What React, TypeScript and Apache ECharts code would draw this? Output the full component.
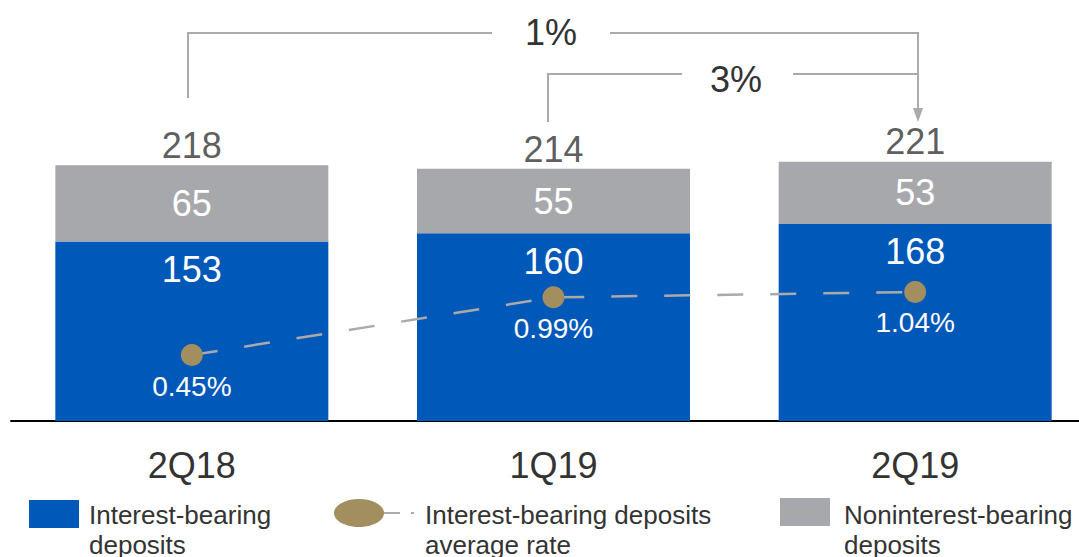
import React, { useEffect, useRef } from "react";
import * as echarts from "echarts";

const categories = ["2Q18", "1Q19", "2Q19"];
const interestBearing = [153, 160, 168];
const nonInterestBearing = [65, 55, 53];
const totals = [218, 214, 221];
const avgRate = [0.45, 0.99, 1.04];
const rateLabels = ["0.45%", "0.99%", "1.04%"];
const growthLabels = ["1%", "3%"];
const legendNames = ["Interest-bearing\ndeposits", "Interest-bearing deposits\naverage rate", "Noninterest-bearing\ndeposits"];

const BLUE = "#0058B9";
const GRAY = "#A7A8AC";
const OLIVE = "#A28E5E";
const LINE_GRAY = "#AAAAAA";
const TEXT = "#333333";
const FONT = "Liberation Sans, Arial, sans-serif";

export default function App() {
  const ref = useRef<HTMLDivElement>(null);
  useEffect(() => {
    const chart = echarts.init(ref.current!, null, { renderer: "svg" });
    const bracketLine = { stroke: LINE_GRAY, lineWidth: 2 };
    chart.setOption({
      animation: false,
      backgroundColor: "#fff",
      textStyle: { fontFamily: FONT },
      grid: { left: 11, right: 0, top: 69, bottom: 136, containLabel: false },
      xAxis: {
        type: "category",
        data: categories,
        axisLine: { lineStyle: { color: "#000", width: 2 } },
        axisTick: { show: false },
        axisLabel: { fontSize: 36, color: TEXT, margin: 26, fontFamily: FONT },
      },
      yAxis: [
        { type: "value", min: 0, max: 300, show: false, splitLine: { show: false } },
        { type: "value", min: -0.168, max: 3.128, show: false, splitLine: { show: false } },
      ],
      series: [
        {
          type: "bar",
          stack: "dep",
          data: interestBearing,
          barWidth: 273,
          itemStyle: { color: BLUE },
          label: { show: true, position: "insideTop", distance: 10, fontSize: 36, color: "#fff", fontFamily: FONT },
        },
        {
          type: "bar",
          stack: "dep",
          data: nonInterestBearing,
          barWidth: 273,
          itemStyle: { color: GRAY },
          label: { show: true, position: "inside", fontSize: 36, color: "#fff", fontFamily: FONT },
        },
        {
          type: "scatter",
          data: totals.map((t, i) => [i, t]),
          symbolSize: 0,
          label: { show: true, position: "top", distance: 2, fontSize: 36, color: TEXT, fontFamily: FONT, formatter: (p: any) => String(p.value[1]) },
          z: 5,
        },
        {
          type: "line",
          yAxisIndex: 1,
          data: avgRate,
          symbol: "circle",
          symbolSize: 22,
          itemStyle: { color: OLIVE },
          lineStyle: { color: LINE_GRAY, width: 2.5, type: [26, 27] },
          label: {
            show: true,
            position: "bottom",
            distance: 6,
            fontSize: 28,
            color: "#fff",
            fontFamily: FONT,
            formatter: (p: any) => rateLabels[p.dataIndex],
          },
          z: 6,
        },
      ],
      graphic: [
        // 1% bracket
        { type: "polyline", shape: { points: [[188, 98], [188, 33], [492, 33]] }, style: { ...bracketLine, fill: null } },
        { type: "polyline", shape: { points: [[610, 33], [918, 33], [918, 110]] }, style: { ...bracketLine, fill: null } },
        { type: "text", x: 551, y: 32, style: { text: growthLabels[0], fontSize: 36, fill: TEXT, fontFamily: FONT, textAlign: "center", textVerticalAlign: "middle" } },
        // 3% bracket
        { type: "polyline", shape: { points: [[548, 122], [548, 74], [682, 74]] }, style: { ...bracketLine, fill: null } },
        { type: "line", shape: { x1: 793, y1: 74, x2: 918, y2: 74 }, style: bracketLine },
        { type: "text", x: 736, y: 79, style: { text: growthLabels[1], fontSize: 36, fill: TEXT, fontFamily: FONT, textAlign: "center", textVerticalAlign: "middle" } },
        { type: "polygon", shape: { points: [[913, 108], [923, 108], [918, 122]] }, style: { fill: LINE_GRAY } },
        // legend
        { type: "rect", shape: { x: 29, y: 500, width: 50, height: 28 }, style: { fill: BLUE } },
        { type: "text", x: 89, y: 500, style: { text: legendNames[0], fontSize: 26, lineHeight: 30, fill: TEXT, fontFamily: FONT, textVerticalAlign: "top" } },
        { type: "ellipse", shape: { cx: 359, cy: 513, rx: 25, ry: 14 }, style: { fill: OLIVE } },
        { type: "line", shape: { x1: 384, y1: 513, x2: 400, y2: 513 }, style: { stroke: LINE_GRAY, lineWidth: 2 } },
        { type: "line", shape: { x1: 411, y1: 513, x2: 414, y2: 513 }, style: { stroke: LINE_GRAY, lineWidth: 2 } },
        { type: "text", x: 425, y: 500, style: { text: legendNames[1], fontSize: 26, lineHeight: 30, fill: TEXT, fontFamily: FONT, textVerticalAlign: "top" } },
        { type: "rect", shape: { x: 780, y: 498, width: 50, height: 28 }, style: { fill: GRAY } },
        { type: "text", x: 844, y: 500, style: { text: legendNames[2], fontSize: 26, lineHeight: 30, fill: TEXT, fontFamily: FONT, textVerticalAlign: "top" } },
      ],
    });
    return () => chart.dispose();
  }, []);
  return (
    <div style={{ position: "absolute", left: 0, top: 0, width: 1079, height: 557, overflow: "hidden" }}>
      <div ref={ref} style={{ width: 1096, height: 557 }} />
    </div>
  );
}
